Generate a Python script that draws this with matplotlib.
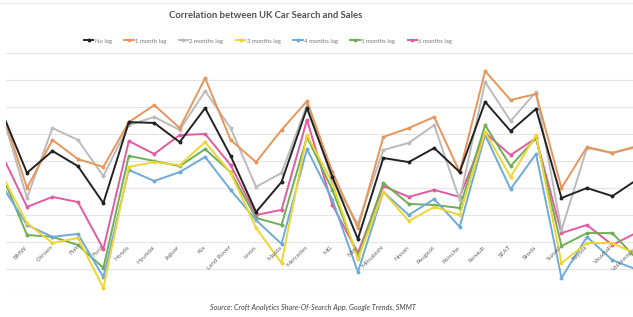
import matplotlib
matplotlib.use("Agg")
import matplotlib.pyplot as plt
import numpy as np

plt.rcParams['font.family'] = ['Lato', 'DejaVu Sans']

brands = ["Audi", "BMW", "Citroen", "Fiat", "Ford", "Honda", "Hyundai", "Jaguar",
          "Kia", "Land Rover", "Lexus", "Mazda", "Mercedes", "MG", "Mini",
          "Mitsubishi", "Nissan", "Peugeot", "Porsche", "Renault", "SEAT",
          "Skoda", "Suzuki", "Toyota", "Vauxhall", "Volkswagen"]

# correlation per brand
no_lag = [0.685, 0.456, 0.537, 0.481, 0.344, 0.644, 0.641, 0.570, 0.696, 0.519,
          0.311, 0.422, 0.696, 0.441, 0.211, 0.511, 0.496, 0.548, 0.459, 0.719,
          0.611, 0.693, 0.363, 0.400, 0.370, 0.433]
lag_1 = [0.693, 0.400, 0.578, 0.507, 0.478, 0.644, 0.707, 0.622, 0.807, 0.578,
         0.496, 0.615, 0.722, 0.459, 0.252, 0.589, 0.622, 0.663, 0.459, 0.833,
         0.726, 0.748, 0.400, 0.552, 0.530, 0.556]
lag_2 = [0.681, 0.363, 0.622, 0.578, 0.444, 0.633, 0.663, 0.615, 0.759, 0.622,
         0.404, 0.456, 0.707, 0.430, 0.267, 0.541, 0.567, 0.633, 0.356, 0.793,
         0.648, 0.756, 0.244, 0.548, 0.530, 0.552]
lag_3 = [0.452, 0.270, 0.196, 0.215, 0.030, 0.478, 0.496, 0.485, 0.570, 0.456,
         0.252, 0.122, 0.596, 0.419, 0.137, 0.385, 0.278, 0.330, 0.300, 0.607,
         0.441, 0.596, 0.122, 0.196, 0.196, 0.152]
lag_4 = [0.411, 0.263, 0.219, 0.230, 0.070, 0.467, 0.426, 0.459, 0.515, 0.393,
         0.281, 0.193, 0.544, 0.356, 0.089, 0.385, 0.300, 0.359, 0.256, 0.596,
         0.396, 0.526, 0.067, 0.219, 0.133, 0.096]
lag_5 = [0.452, 0.226, 0.219, 0.189, 0.104, 0.519, 0.500, 0.481, 0.544, 0.459,
         0.289, 0.263, 0.589, 0.393, 0.144, 0.419, 0.341, 0.337, 0.326, 0.633,
         0.481, 0.585, 0.185, 0.233, 0.233, 0.133]
lag_6 = [0.526, 0.330, 0.367, 0.348, 0.174, 0.574, 0.526, 0.596, 0.600, 0.485,
         0.300, 0.319, 0.652, 0.337, 0.159, 0.407, 0.367, 0.393, 0.367, 0.604,
         0.522, 0.585, 0.233, 0.263, 0.189, 0.237]

series = [("No lag", no_lag, "#222222"),
          ("1 month lag", lag_1, "#E8955A"),
          ("2 months lag", lag_2, "#BBBBBB"),
          ("3 months lag", lag_3, "#EDD535"),
          ("4 months lag", lag_4, "#6FAAD8"),
          ("5 months lag", lag_5, "#6FAE55"),
          ("6 months lag", lag_6, "#E25AA0")]

fig = plt.figure(figsize=(6.33, 3.17), dpi=100)
ax = fig.add_axes([6 / 633, 21 / 317, 627 / 633, 243 / 317])

x = np.arange(len(brands))
# draw back to front so black ends on top
for name, vals, col in series[::-1]:
    ax.plot(x, vals, color=col, lw=1.4, marker="o", ms=1.8, label=name)

ax.set_xlim(0.175, 24.81)
ax.set_ylim(0, 0.9)
ax.set_yticks(np.arange(0, 0.91, 0.1))
ax.grid(axis="y", color="#E4E4E4", lw=0.8)
ax.set_axisbelow(True)
ax.tick_params(left=False, bottom=False, labelleft=False, labelbottom=False)
for s in ax.spines.values():
    s.set_visible(False)

# category labels sit next to the axis crossing at 0.2
# (first brand lies left of the visible area, so it gets no label)
for i, b in enumerate(brands[1:], start=1):
    ax.annotate(b, xy=(i, 0.2), xytext=(1, -2), textcoords="offset points",
                rotation=45, ha="right", va="top", fontsize=4.6,
                color="#666666", annotation_clip=False)

fig.text(266 / 633, 1 - 15 / 317, "Correlation between UK Car Search and Sales",
         ha="center", va="center", fontsize=6.8, color="#505050", fontweight="bold")

h, l = ax.get_legend_handles_labels()
fig.legend(h[::-1], l[::-1], loc="center", bbox_to_anchor=(268 / 633, 1 - 41 / 317),
           ncol=7, frameon=False, fontsize=4.3, handlelength=1.6,
           columnspacing=2.1, handletextpad=0.2, labelcolor="#777777")

fig.text(313 / 633, 1 - 307 / 317,
         "Source: Croft Analytics Share-Of-Search App, Google Trends, SMMT",
         ha="center", va="center", fontsize=5.2, style="italic", color="#444444")

fig.add_artist(plt.Line2D([0, 1], [1 - 3 / 317] * 2, color="#E8E8E8", lw=0.8))

fig.savefig("out.png", dpi=100)
